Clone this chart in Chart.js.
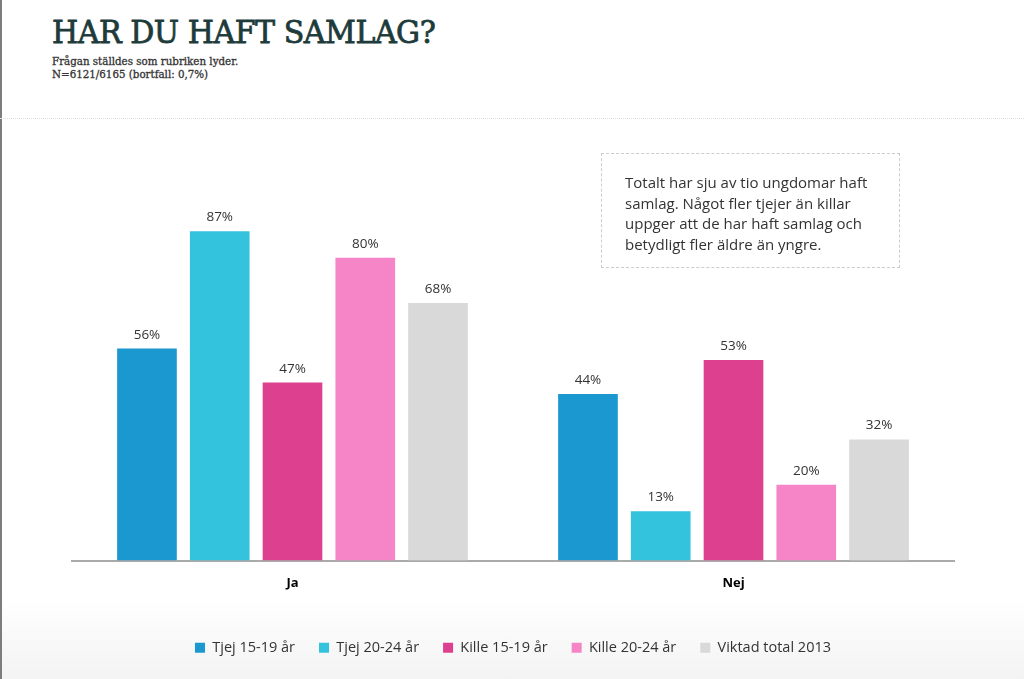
<!DOCTYPE html>
<html>
<head>
<meta charset="utf-8">
<script src="https://cdn.jsdelivr.net/npm/chart.js@4.4.1/dist/chart.umd.min.js"></script>
<style>
  html, body { margin: 0; padding: 0; }
  body {
    width: 1024px; height: 679px; position: relative; overflow: hidden;
    background: linear-gradient(to bottom, #ffffff 0%, #ffffff 88%, #f3f3f3 100%);
  }
  #leftEdge { position: absolute; left: 0; top: 0; width: 2px; height: 679px; background: #7d7d7d; }
  #title {
    position: absolute; left: 52px; top: 14px; margin: 0;
    font-family: "DejaVu Serif", serif; font-weight: normal; font-size: 31px;
    color: #1e3b3b; -webkit-text-stroke: 0.8px #1e3b3b;
    letter-spacing: -0.5px; transform: scaleX(0.97); transform-origin: left top;
  }
  .sub {
    position: absolute; left: 52px; margin: 0;
    font-family: "DejaVu Serif", serif; font-size: 10.3px; color: #333;
    -webkit-text-stroke: 0.3px #333;
  }
  #divider { position: absolute; left: 0; top: 118px; width: 1024px; border-top: 1px dotted #ddd; }
  #note {
    position: absolute; left: 601px; top: 153px; width: 299px; height: 115px;
    box-sizing: border-box; border: 1px dashed #ccc; padding: 18px 24px 0 23px;
    font-family: "Open Sans", sans-serif; font-size: 15px; line-height: 20.5px; color: #333;
  }
  #chart { position: absolute; left: 0; top: 0; }
</style>
</head>
<body>
<div id="leftEdge"></div>
<h1 id="title">HAR DU HAFT SAMLAG?</h1>
<p class="sub" style="top:55px">Frågan ställdes som rubriken lyder.</p>
<p class="sub" style="top:68px">N=6121/6165 (bortfall: 0,7%)</p>
<div id="divider"></div>
<canvas id="chart" width="1024" height="679"></canvas>
<div id="note">Totalt har sju av tio ungdomar haft samlag. Något fler tjejer än killar uppger att de har haft samlag och betydligt fler äldre än yngre.</div>

<script>
const categories = ['Ja', 'Nej'];
const seriesNames = ['Tjej 15-19 år', 'Tjej 20-24 år', 'Kille 15-19 år', 'Kille 20-24 år', 'Viktad total 2013'];
const tjej1519 = [56, 44];
const tjej2024 = [87, 13];
const kille1519 = [47, 53];
const kille2024 = [80, 20];
const viktadTotal = [68, 32];
const seriesColors = ['#1b98d0', '#33c3dc', '#dc408e', '#f585c6', '#d9d9d9'];

const seriesValues = [tjej1519, tjej2024, kille1519, kille2024, viktadTotal];

// draws the "56%" labels above each bar
const valueLabels = {
  id: 'valueLabels',
  afterDatasetsDraw(chart) {
    const ctx = chart.ctx;
    ctx.save();
    ctx.font = '13.5px "Open Sans", sans-serif';
    ctx.fillStyle = '#333';
    ctx.textAlign = 'center';
    ctx.textBaseline = 'bottom';
    chart.data.datasets.forEach((ds, i) => {
      chart.getDatasetMeta(i).data.forEach((bar, j) => {
        ctx.fillText(ds.data[j] + '%', bar.x, bar.y - 7);
      });
    });
    ctx.restore();
  }
};

new Chart(document.getElementById('chart'), {
  type: 'bar',
  data: {
    labels: categories,
    datasets: seriesNames.map((name, i) => ({
      label: name,
      data: seriesValues[i],
      backgroundColor: seriesColors[i],
      categoryPercentage: 0.825,
      barPercentage: 0.82
    }))
  },
  options: {
    responsive: false,
    animation: false,
    layout: { padding: { top: 182, left: 72, right: 70, bottom: 14 } },
    scales: {
      x: {
        grid: { display: false, drawTicks: false },
        border: { color: '#aaaaaa', width: 2 },
        ticks: {
          color: '#000',
          padding: 15,
          font: { family: '"Open Sans", sans-serif', size: 13, weight: 'bold' }
        },
        afterFit(scale) { scale.height = 56; }
      },
      y: {
        display: false,
        min: 0,
        max: 100
      }
    },
    plugins: {
      legend: {
        position: 'bottom',
        labels: {
          boxWidth: 10,
          boxHeight: 10,
          padding: 24,
          color: '#333',
          font: { family: '"Open Sans", sans-serif', size: 14.5 }
        }
      },
      tooltip: { enabled: false }
    }
  },
  plugins: [valueLabels]
});
</script>
</body>
</html>
